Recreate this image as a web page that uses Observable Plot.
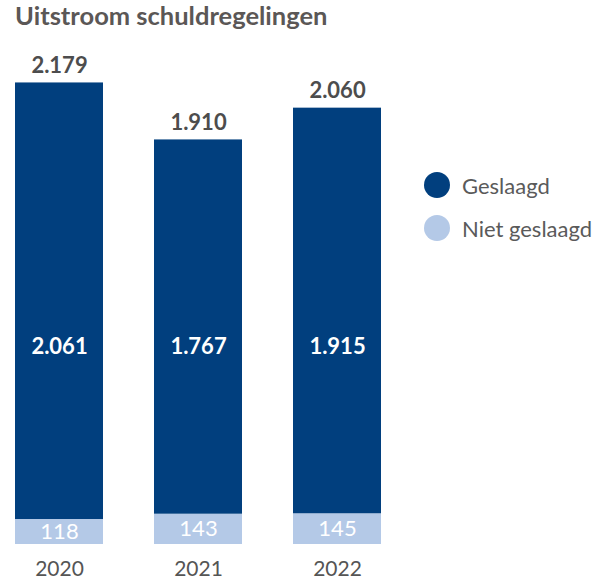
<!DOCTYPE html>
<html><head><meta charset="utf-8">
<script src="https://cdn.jsdelivr.net/npm/d3@7"></script>
<script src="https://cdn.jsdelivr.net/npm/@observablehq/plot@0.6"></script>
<style>
body{margin:0;background:#fff;font-family:Lato,"Open Sans",sans-serif;}
#wrap{position:relative;width:592px;height:585px;overflow:hidden;}
#title{height:40px;box-sizing:border-box;padding:0 0 0 15px;font-size:25.5px;font-weight:700;color:#5b5756;line-height:30px;}
#legend{position:absolute;left:424px;top:171px;font-size:22px;color:#5a5a5a;white-space:nowrap;width:170px;}
#legend .it{display:flex;align-items:center;height:28px;margin-bottom:15px;white-space:nowrap;}
#legend .sw{flex:none;width:26px;height:26px;border-radius:50%;margin-right:12px;}
</style></head>
<body><div id="wrap"><div id="title">Uitstroom schuldregelingen</div><div id="chart"></div><div id="legend"></div></div>
<script>
const years = ["2020", "2021", "2022"];
const geslaagd = [2061, 1767, 1915];
const nietGeslaagd = [118, 143, 145];
const totals = [2179, 1910, 2060];
const seriesNames = ["Geslaagd", "Niet geslaagd"];
const colors = ["#013f7e", "#b4c9e7"];

const fmt = d3.format(",");
const nl = v => fmt(v).replace(/,/g, ".");

const rows = [];
years.forEach((y, i) => {
  rows.push({year: y, serie: "Niet geslaagd", value: nietGeslaagd[i], order: 0});
  rows.push({year: y, serie: "Geslaagd", value: geslaagd[i], order: 1});
});
const totRows = years.map((y, i) => ({year: y, total: totals[i]}));
const gRows = years.map((y, i) => ({year: y, value: geslaagd[i]}));
const nRows = years.map((y, i) => ({year: y, value: nietGeslaagd[i]}));

const chart = Plot.plot({
  width: 592,
  height: 545,
  marginTop: 38,
  marginBottom: 41,
  marginLeft: 15,
  marginRight: 211,
  style: {fontFamily: "Lato, 'Open Sans', sans-serif", background: "#fff"},
  x: {domain: years, paddingInner: 0.37, paddingOuter: 0, label: null},
  y: {domain: [0, 2200], axis: null},
  color: {domain: seriesNames, range: colors},
  marks: [
    Plot.barY(rows, Plot.stackY({x: "year", y: "value", fill: "serie", order: "order"})),
    Plot.text(totRows, {x: "year", y: "total", text: d => nl(d.total), dy: -17, fontSize: 22, fontWeight: 700, fill: "#4d4d4d"}),
    Plot.text(gRows, {x: "year", frameAnchor: "middle", text: d => nl(d.value), dy: 35, fontSize: 22, fontWeight: 700, fill: "#fff"}),
    Plot.text(nRows, {x: "year", y: d => d.value / 2, text: d => nl(d.value), fontSize: 22, fill: "#fff"}),
    Plot.axisX({tickSize: 0, tickPadding: 17, fontSize: 21, color: "#555", label: null})
  ]
});
document.getElementById("chart").appendChild(chart);

const leg = document.getElementById("legend");
seriesNames.forEach((s, i) => {
  const it = document.createElement("div"); it.className = "it";
  const sw = document.createElement("div"); sw.className = "sw"; sw.style.background = colors[i];
  const tx = document.createElement("span"); tx.textContent = s;
  it.appendChild(sw); it.appendChild(tx); leg.appendChild(it);
});
</script></body></html>
